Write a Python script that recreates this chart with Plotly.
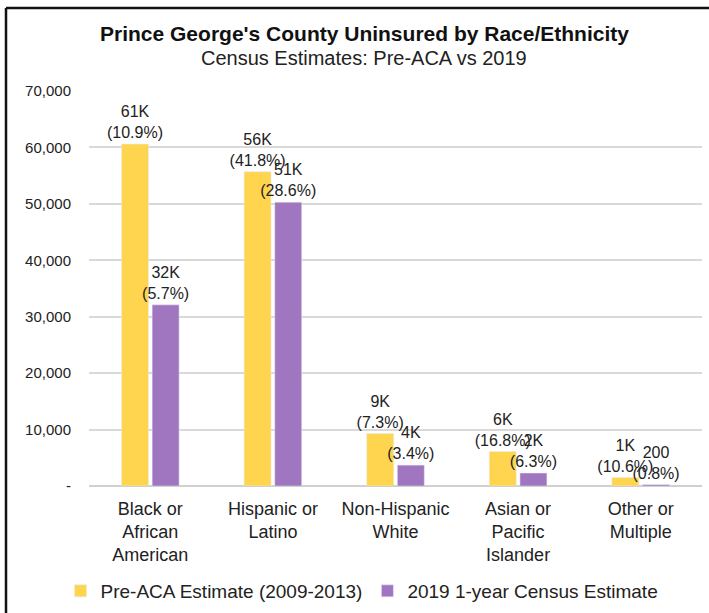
import plotly.graph_objects as go

categories = ["Black or<br>African<br>American", "Hispanic or<br>Latino", "Non-Hispanic<br>White",
              "Asian or<br>Pacific<br>Islander", "Other or<br>Multiple"]
pre_aca = [60600, 55700, 9300, 6100, 1500]
pre_aca_labels = ["61K<br>(10.9%)", "56K<br>(41.8%)", "9K<br>(7.3%)", "6K<br>(16.8%)", "1K<br>(10.6%)"]
y2019 = [32100, 50300, 3700, 2300, 250]
y2019_labels = ["32K<br>(5.7%)", "51K<br>(28.6%)", "4K<br>(3.4%)", "2K<br>(6.3%)", "200<br>(0.8%)"]
tick_vals = [0, 10000, 20000, 30000, 40000, 50000, 60000, 70000]
tick_text = ["-", "10,000", "20,000", "30,000", "40,000", "50,000", "60,000", "70,000"]

W, H = 709, 613
L, R, T, B = 89, 7, 91, 127
pw, ph = W - L - R, H - T - B

def px(x):
    return (x - L) / pw

def py(y):
    return (H - B - y) / ph

font = "Liberation Sans, Arial, sans-serif"

fig = go.Figure()
fig.add_trace(go.Bar(name="Pre-ACA Estimate (2009-2013)", x=categories, y=pre_aca,
                     text=pre_aca_labels, textposition="outside", constraintext="none",
                     marker_color="#FFD44F", cliponaxis=False,
                     textfont=dict(size=16, color="#222222", family=font)))
fig.add_trace(go.Bar(name="2019 1-year Census Estimate", x=categories, y=y2019,
                     text=y2019_labels, textposition="outside", constraintext="none",
                     marker_color="#A076C0", cliponaxis=False,
                     textfont=dict(size=16, color="#222222", family=font)))

fig.update_layout(
    width=W, height=H,
    margin=dict(l=L, r=R, t=T, b=B, autoexpand=False),
    paper_bgcolor="white", plot_bgcolor="white",
    barmode="group", bargap=0.5, bargroupgap=0.12,
    font=dict(family=font, color="#222222"),
    showlegend=True,
    legend=dict(orientation="h", x=px(362), xanchor="center", y=py(591), yanchor="middle",
                font=dict(size=19, color="#222222"), itemwidth=30, traceorder="normal"),
    xaxis=dict(showgrid=False, showline=False, ticks="outside", ticklen=6,
               tickcolor="rgba(0,0,0,0)", tickfont=dict(size=18, color="#222222")),
    yaxis=dict(range=[0, 70000], tickvals=tick_vals, ticktext=tick_text, showgrid=True,
               gridcolor="#D9D9D9", gridwidth=1.5, zeroline=True, zerolinecolor="#D0D0D0",
               zerolinewidth=1.5, showline=False, ticks="outside", ticklen=14,
               tickcolor="rgba(0,0,0,0)", tickfont=dict(size=15, color="#222222")),
    annotations=[
        dict(text="<b>Prince George's County Uninsured by Race/Ethnicity</b>", xref="paper", yref="paper",
             x=px(364), y=py(34), xanchor="center", yanchor="middle", showarrow=False,
             font=dict(size=21, color="#111111")),
        dict(text="Census Estimates: Pre-ACA vs 2019", xref="paper", yref="paper",
             x=px(364), y=py(58), xanchor="center", yanchor="middle", showarrow=False,
             font=dict(size=20, color="#222222")),
    ],
    shapes=[
        dict(type="line", xref="paper", yref="paper", x0=px(6), x1=px(712), y0=py(8), y1=py(8),
             line=dict(color="#111111", width=2.5)),
        dict(type="line", xref="paper", yref="paper", x0=px(6), x1=px(6), y0=py(8), y1=py(616),
             line=dict(color="#111111", width=2.5)),
    ],
)

fig.write_html("out.html", config={"displayModeBar": False},
               post_script="document.body.style.margin='0px';document.body.style.overflow='hidden';")
